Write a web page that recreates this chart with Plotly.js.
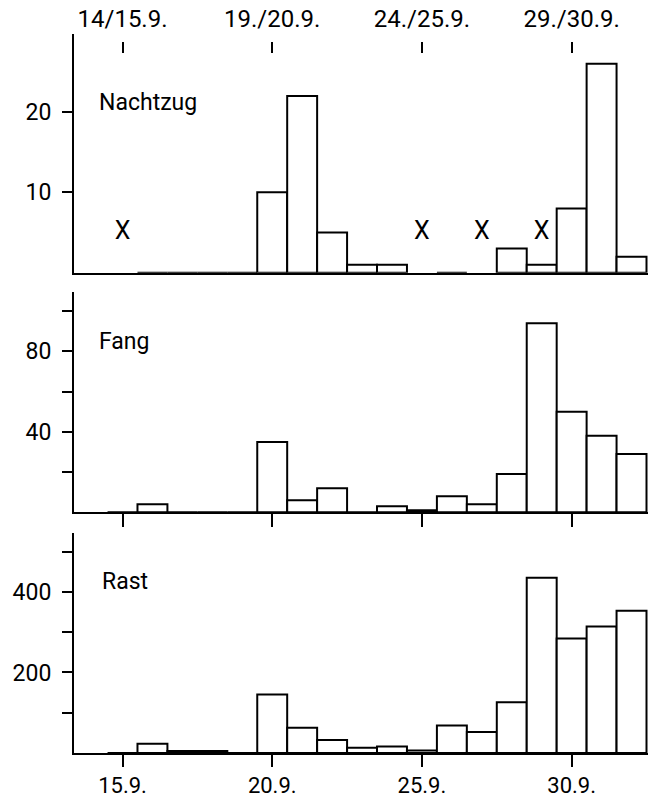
<!DOCTYPE html>
<html>
<head>
<meta charset="utf-8">
<script src="https://cdn.plot.ly/plotly-3.0.1.min.js"></script>
<style>html,body{margin:0;padding:0;background:#fff;}</style>
</head>
<body>
<div id="chart" style="width:654px;height:798px;"></div>
<script>
// Days (September; 31, 32 = 1./2. October)
const days = [15,16,17,18,19,20,21,22,23,24,25,26,27,28,29,30,31,32];
// Nachtzug (null = no observation, marked with X)
const nachtzug = [null,0,0,0,0,10,22,5,1,1,null,0,null,3,1,8,26,2];
const noDataDays = [15,25,27,29];
const noDataLevel = [5,5,5,5];
// Fang
const fang = [0,4,0,0,0,35,6,12,0,3,1,8,4,19,94,50,38,29];
// Rast
const rast = [0,23,5,5,0,145,63,32,13,16,6,68,52,126,435,284,314,353];

const tickDays = [15,20,25,30];
const topTickText = ['14/15.9.','19./20.9.','24./25.9.','29./30.9.'];
const bottomTickText = ['15.9.','20.9.','25.9.','30.9.'];
const panelNames = ['Nachtzug','Fang','Rast'];

const FONT = 'Roboto, "DejaVu Sans", sans-serif';
const xr = [13.38, 32.55];
const barStyle = {color:'#ffffff', line:{color:'#000000', width:2}};

const traces = [
  {type:'bar', x:days, y:nachtzug, width:1, marker:barStyle, xaxis:'x', yaxis:'y', hoverinfo:'none'},
  {type:'scatter', mode:'text', x:noDataDays, y:noDataLevel, text:noDataDays.map(()=> 'X'),
   textfont:{family:FONT, size:25, color:'#000'}, xaxis:'x4', yaxis:'y', hoverinfo:'none'},
  {type:'bar', x:days, y:fang, width:1, marker:barStyle, xaxis:'x2', yaxis:'y2', hoverinfo:'none'},
  {type:'bar', x:days, y:rast, width:1, marker:barStyle, xaxis:'x3', yaxis:'y3', hoverinfo:'none'}
];

const yCommon = {showline:true, linewidth:2, linecolor:'#000', ticks:'outside', ticklen:10, tickwidth:2,
  tickcolor:'#000', showgrid:false, zeroline:false, tickfont:{family:FONT, size:23, color:'#000'},
  ticklabelstandoff:6, fixedrange:true};
const xCommon = {range:xr, showline:true, linewidth:2, linecolor:'#000', showgrid:false, zeroline:false,
  tickvals:tickDays, tickwidth:2, tickcolor:'#000', tickfont:{family:FONT, size:23, color:'#000'}};

const layout = {
  width:654, height:798,
  margin:{l:74, r:6, t:34, b:45},
  paper_bgcolor:'#fff', plot_bgcolor:'#fff',
  showlegend:false, bargap:0,
  font:{family:FONT, color:'#000'},
  xaxis: Object.assign({}, xCommon, {anchor:'y', ticks:'', showticklabels:false}),
  xaxis2: Object.assign({}, xCommon, {anchor:'y2', ticks:'outside', ticklen:13, showticklabels:false}),
  xaxis3: Object.assign({}, xCommon, {anchor:'y3', ticks:'outside', ticklen:12, ticktext:bottomTickText,
     tickfont:{family:FONT, size:22, color:'#000'}, ticklabelstandoff:0}),
  xaxis4: Object.assign({}, xCommon, {overlaying:'x', side:'top', anchor:'free', position:0.99, showline:false,
     ticks:'inside', ticklen:11, ticktext:topTickText, tickfont:{family:FONT, size:24, color:'#000'}, ticklabelstandoff:9}),
  yaxis: Object.assign({}, yCommon, {domain:[0.668,1], range:[0,29.7], tickvals:[10,20], ticktext:['10','20']}),
  yaxis2: Object.assign({}, yCommon, {domain:[0.3348,0.6416], range:[0,109.7], tickvals:[20,40,60,80,100], ticktext:['','40','','80','']}),
  yaxis3: Object.assign({}, yCommon, {domain:[0,0.3064], range:[0,547], tickvals:[100,200,300,400,500], ticktext:['','200','','400','']}),
  annotations: [
    {text:panelNames[0], xref:'x domain', yref:'y domain', x:0.04, y:0.715, xanchor:'left', yanchor:'middle', showarrow:false, font:{family:FONT, size:23, color:'#000'}},
    {text:panelNames[1], xref:'x2 domain', yref:'y2 domain', x:0.04, y:0.776, xanchor:'left', yanchor:'middle', showarrow:false, font:{family:FONT, size:23, color:'#000'}},
    {text:panelNames[2], xref:'x3 domain', yref:'y3 domain', x:0.045, y:0.78, xanchor:'left', yanchor:'middle', showarrow:false, font:{family:FONT, size:23, color:'#000'}}
  ]
};

Plotly.newPlot('chart', traces, layout, {displayModeBar:false, staticPlot:true});
</script>
</body>
</html>
